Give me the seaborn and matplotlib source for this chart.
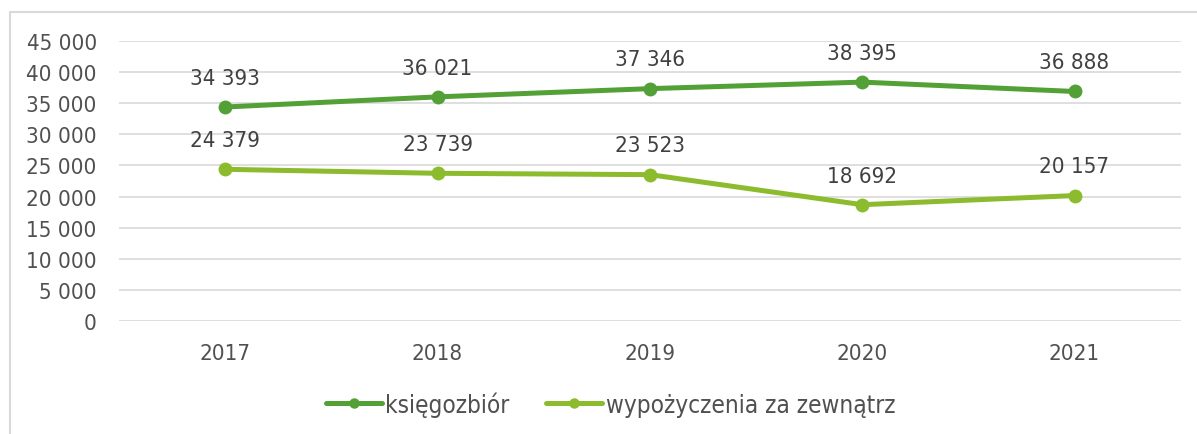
import matplotlib
matplotlib.use("Agg")
import matplotlib.pyplot as plt
import matplotlib.ticker as mticker
from matplotlib.patches import Rectangle
import pandas as pd
import seaborn as sns

years = ["2017", "2018", "2019", "2020", "2021"]
ksiegozbior = [34393, 36021, 37346, 38395, 36888]
wypozyczenia = [24379, 23739, 23523, 18692, 20157]
series_names = ["księgozbiór", "wypożyczenia za zewnątrz"]
colors = ["#52A036", "#8CBB2E"]


def fmt(v, pos=None):
    return f"{int(v):,}".replace(",", " ")


df = pd.DataFrame({
    "rok": years * 2,
    "wartosc": ksiegozbior + wypozyczenia,
    "seria": [series_names[0]] * len(years) + [series_names[1]] * len(years),
})

sns.set_theme(style="white")
plt.rcParams["font.family"] = ["DejaVu Sans"]
plt.rcParams["font.stretch"] = "condensed"
text_col = "#404040"
fs = 16

fig = plt.figure(figsize=(11.97, 4.35), dpi=100)
ax = fig.add_axes([0.0994, 0.2598, 0.887, 0.6436])

sns.lineplot(data=df, x="rok", y="wartosc", hue="seria", palette=colors,
             marker="o", markersize=10, markeredgewidth=0, linewidth=3.6,
             ax=ax, sort=False)

for vals in (ksiegozbior, wypozyczenia):
    for i, v in enumerate(vals):
        ax.annotate(fmt(v), (i, v), xytext=(0, 21), textcoords="offset points",
                    ha="center", va="center", fontsize=fs, color=text_col)

ax.set_ylim(0, 45000)
ax.set_xlim(-0.5, 4.5)
ax.yaxis.set_major_locator(mticker.MultipleLocator(5000))
ax.yaxis.set_major_formatter(mticker.FuncFormatter(fmt))
ax.grid(axis="y", color="#D9D9D9", linewidth=1.2)
ax.set_axisbelow(True)
for s in ax.spines.values():
    s.set_visible(False)
ax.tick_params(axis="both", length=0, labelsize=fs, labelcolor="#505050")
ax.tick_params(axis="x", pad=16)
ax.tick_params(axis="y", pad=16)
ax.set_xlabel("")
ax.set_ylabel("")

leg = ax.legend(loc="center", bbox_to_anchor=(0.463, -0.296), ncol=2, frameon=False,
                fontsize=17.5, handlelength=2.3, columnspacing=1.5, handletextpad=0.15,
                labelcolor="#505050")
for h in leg.legend_handles:
    h.set_markersize(7.5)

fig.add_artist(Rectangle((10 / 1197, -0.2), 1.2, 1.2 - 13 / 435,
                         transform=fig.transFigure, fill=False,
                         edgecolor="#D9D9D9", linewidth=1.5))

fig.savefig("out.png", dpi=100)
